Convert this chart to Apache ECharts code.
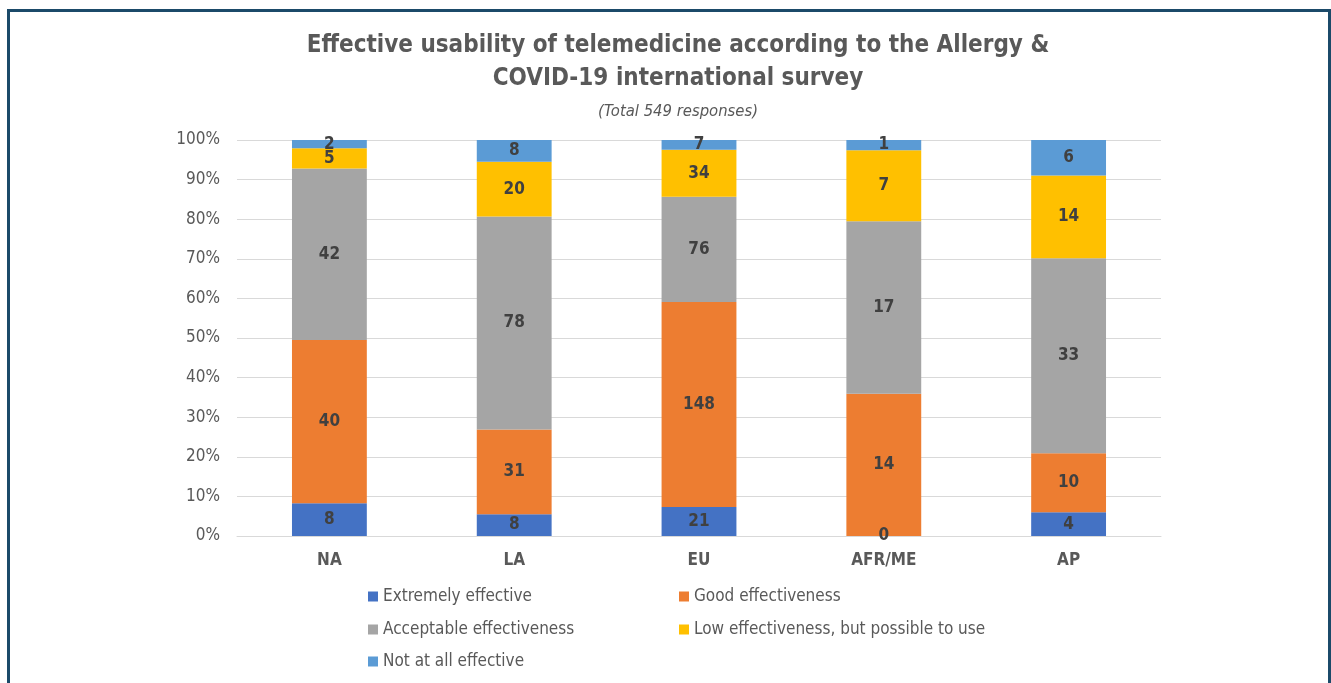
<!DOCTYPE html>
<html><head><meta charset="utf-8">
<script src="https://cdn.jsdelivr.net/npm/echarts@6/dist/echarts.min.js"></script>
<style>html,body{margin:0;padding:0;background:#fff}#c{width:1331px;height:683px}</style>
</head><body><div id="c"></div>
<script>
const categories = ['NA', 'LA', 'EU', 'AFR/ME', 'AP'];
const seriesNames = ['Extremely effective', 'Good effectiveness', 'Acceptable effectiveness', 'Low effectiveness, but possible to use', 'Not at all effective'];
const extremelyEffective = [8, 8, 21, 0, 4];
const goodEffectiveness = [40, 31, 148, 14, 10];
const acceptableEffectiveness = [42, 78, 76, 17, 33];
const lowEffectiveness = [5, 20, 34, 7, 14];
const notAtAllEffective = [2, 8, 7, 1, 6];
const yTicks = [0, 10, 20, 30, 40, 50, 60, 70, 80, 90, 100];
const titleText = 'Effective usability of telemedicine according to the Allergy &\nCOVID-19 international survey';
const subtitleText = '(Total 549 responses)';

const counts = [extremelyEffective, goodEffectiveness, acceptableEffectiveness, lowEffectiveness, notAtAllEffective];
const colors = ['#4472C4', '#ED7D31', '#A5A5A5', '#FFC000', '#5B9BD5'];
const totals = categories.map((_, i) => counts.reduce((s, arr) => s + arr[i], 0));
const FONT = '"DejaVu Sans Condensed", sans-serif';

const chart = echarts.init(document.getElementById('c'), null, {renderer: 'canvas'});
const legendPos = [[368, 588], [679, 588], [368, 621], [679, 621], [368, 653]];
chart.setOption({
  animation: false,
  textStyle: {fontFamily: FONT},
  title: [
    {text: titleText, left: 673, top: 24, textAlign: 'center',
     textStyle: {fontFamily: FONT, fontSize: 24, fontWeight: 'bold', color: '#595959', lineHeight: 33}},
    {text: subtitleText, left: 673, top: 98, textAlign: 'center',
     textStyle: {fontFamily: FONT, fontSize: 16.5, fontStyle: 'italic', fontWeight: 'normal', color: '#595959'}}
  ],
  legend: seriesNames.map((n, i) => ({
    data: [n], left: legendPos[i][0], top: legendPos[i][1],
    itemWidth: 10, itemHeight: 10, itemGap: 5, icon: 'rect',
    textStyle: {fontFamily: FONT, fontSize: 17, color: '#595959'},
    selectedMode: false, padding: 0
  })),
  grid: {left: 237, right: 170, top: 140, bottom: 147, containLabel: false},
  xAxis: {
    type: 'category', data: categories,
    axisLine: {show: true, lineStyle: {color: '#D9D9D9', width: 1}},
    axisTick: {show: false},
    axisLabel: {fontFamily: FONT, fontSize: 17, fontWeight: 'bold', color: '#595959', margin: 16}
  },
  yAxis: {
    type: 'value', min: 0, max: 100, interval: 10,
    axisLine: {show: false}, axisTick: {show: false},
    splitLine: {lineStyle: {color: '#D9D9D9', width: 1}},
    axisLabel: {fontFamily: FONT, fontSize: 17, color: '#595959', margin: 17,
      formatter: v => yTicks.includes(v) ? v + '%' : ''}
  },
  graphic: [{type: 'rect', shape: {x: 8.5, y: 10.5, width: 1321, height: 700},
    style: {fill: 'none', stroke: '#1B4A69', lineWidth: 3}, silent: true, z: 100}],
  series: seriesNames.map((n, s) => ({
    name: n, type: 'bar', stack: 'total', barWidth: '40.5%',
    itemStyle: {color: colors[s]},
    label: {show: true, position: 'inside', fontFamily: FONT, fontSize: 17, fontWeight: 'bold', color: '#404040',
      formatter: p => String(counts[s][p.dataIndex])},
    data: counts[s].map((v, i) => v / totals[i] * 100)
  }))
});
</script></body></html>
